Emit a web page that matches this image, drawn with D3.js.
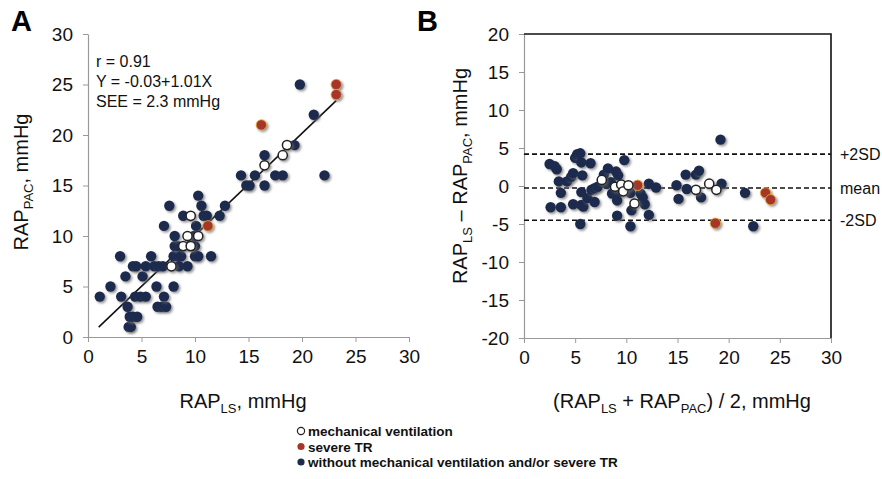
<html>
<head>
<meta charset="utf-8">
<script src="https://d3js.org/d3.v7.min.js"></script>
<style>
body { margin: 0; background: #fff; }
svg { font-family: 'Liberation Sans', Arial, sans-serif; }
</style>
</head>
<body>
<svg width="882" height="479"></svg>
<script>
// panel A: RAP_LS (x) vs RAP_PAC (y), mmHg
var aDark = [
[1.1,4],[2.1,5],[3.0,8],[3.1,4],[3.5,6],[3.7,3],[3.8,1],[4.0,1],[3.9,2],[4.2,2],[4.6,2],[4.2,7],[4.5,7],
[4.4,4],[4.9,4],[5.4,4],[5.1,6],[5.4,7],[5.9,8],[6.4,5],[6.2,7],[6.6,7],[7.0,7],[6.5,3],[6.9,3],[7.3,3],
[7.1,4],[7.1,11],[7.6,13],[8.0,5],[8.0,8],[8.4,8],[8.1,9],[8.4,9],[8.1,10],[8.7,8],[8.5,7],[9.3,7],[8.9,12],
[9.9,10],[10.0,9],[10.0,8],[10.3,8],[10.1,11],[10.3,14],[10.6,13],[10.8,12],[11.1,12],[11.5,8],[12.3,12],
[12.8,13],[14.3,16],[14.8,15],[15.1,15],[15.6,16],[16.5,15],[16.5,18],[17.5,16],[18.2,16],[19.3,19],
[19.8,25],[21.1,22],[22.1,16]
];
var aOpen = [[7.8,7],[8.9,9],[9.3,10],[9.6,12],[9.6,9],[10.3,10],[16.5,17],[18.2,18],[18.6,19]];
var aRed = [[11.2,11],[16.2,21],[23.2,25],[23.2,24]];
var fitLine = {intercept: -0.03, slope: 1.01, from: 1, to: 23.2};
var statsText = ["r = 0.91", "Y = -0.03+1.01X", "SEE = 2.3 mmHg"];

// panel B: mean (x) vs difference (y)
var bDark = [
[2.5,2.9],[3.0,2.6],[3.2,2.2],[3.4,0.6],[3.6,-0.9],[2.6,-2.8],[3.6,-2.8],
[4.2,0.6],[4.6,1.2],[4.8,1.7],[5.0,3.7],[5.2,4.2],[5.5,4.3],[5.6,3.1],[5.7,1.4],[5.6,-0.8],[4.8,-2.4],
[5.6,-2.5],[5.8,-2.7],[5.5,-5.0],[6.5,3.0],[6.2,-1.6],[6.6,-0.5],[6.9,-0.3],[6.9,-2.1],[7.2,-0.1],
[7.8,1.5],[8.2,2.3],[8.1,0.3],[8.5,0.5],[8.6,-1.0],[9.0,1.9],[9.2,1.4],[9.1,-1.0],[9.1,-1.9],[9.1,-3.9],
[9.8,3.4],[10.4,-0.9],[10.5,-3.2],[10.4,-5.3],[11.4,-1.0],[11.6,-1.5],[11.8,-2.4],[12.2,-3.8],[12.2,0.3],
[12.9,-0.2],[14.9,0.1],[15.1,-1.7],[15.8,1.5],[15.9,-0.4],[16.8,1.5],[17.1,2.0],[17.3,-1.5],[19.2,6.1],
[19.3,0.3],[21.6,-0.9],[22.4,-5.3]
];
var bOpen = [[7.6,0.8],[8.9,-0.1],[9.5,0.2],[9.7,-0.7],[10.2,0.1],[10.8,-2.3],[16.8,-0.5],[18.1,0.3],[18.8,-0.5]];
var bRed = [[11.1,0.1],[18.7,-4.9],[23.6,-0.9],[24.1,-1.8]];
var limits = [{v: 4.2, label: "+2SD"}, {v: -0.26, label: "mean"}, {v: -4.5, label: "-2SD"}];

var xTicks = [0,5,10,15,20,25,30];
var aYTicks = [0,5,10,15,20,25,30];
var bYTicks = [-20,-15,-10,-5,0,5,10,15,20];
var legendItems = ["mechanical ventilation", "severe TR", "without mechanical ventilation and/or severe TR"];

var navy = "#1c2a4e", red = "#a7352a";

var svg = d3.select("svg");

// shadow under dots
var defs = svg.append("defs");
defs.append("filter").attr("id", "sh").attr("x", "-50%").attr("y", "-50%").attr("width", "200%").attr("height", "200%")
  .append("feDropShadow").attr("dx", 1.6).attr("dy", 1.6).attr("stdDeviation", 1.1)
  .attr("flood-color", "#666").attr("flood-opacity", 0.7);

var xA = d3.scaleLinear().domain([0, 30]).range([88, 409]);
var yA = d3.scaleLinear().domain([0, 30]).range([337, 34]);
var xB = d3.scaleLinear().domain([0, 30]).range([524, 831]);
var yB = d3.scaleLinear().domain([-20, 20]).range([338, 34]);

// plain hyphen for negatives, like the original
var fmt = function(d) { return String(d); };

function styleAxis(g) {
  g.select(".domain").attr("stroke", "#999").attr("stroke-width", 1.2);
  g.selectAll(".tick line").attr("stroke", "#999");
  g.selectAll("text").attr("font-size", 19).attr("fill", "#111")
   .attr("font-family", "'Liberation Sans', Arial, sans-serif");
}

// ---- panel A axes
svg.append("g").attr("transform", "translate(0,337)")
  .call(d3.axisBottom(xA).tickValues(xTicks).tickFormat(fmt).tickSize(5).tickPadding(8).tickSizeOuter(0))
  .call(styleAxis);
svg.append("g").attr("transform", "translate(88,0)")
  .call(d3.axisLeft(yA).tickValues(aYTicks).tickFormat(fmt).tickSize(5).tickPadding(10).tickSizeOuter(0))
  .call(styleAxis);

// ---- panel B axes + frame
svg.append("g").attr("transform", "translate(0,338)")
  .call(d3.axisBottom(xB).tickValues(xTicks).tickFormat(fmt).tickSize(5).tickPadding(8).tickSizeOuter(0))
  .call(styleAxis);
svg.append("g").attr("transform", "translate(524,0)")
  .call(d3.axisLeft(yB).tickValues(bYTicks).tickFormat(fmt).tickSize(5).tickPadding(10).tickSizeOuter(0))
  .call(styleAxis);
svg.append("path")
  .attr("d", "M" + xB(0) + "," + yB(20) + "H" + xB(30) + "V" + yB(-20))
  .attr("fill", "none").attr("stroke", "#111").attr("stroke-width", 1.6);

// limits of agreement
limits.forEach(function(l) {
  svg.append("line")
    .attr("x1", xB(0)).attr("x2", xB(30))
    .attr("y1", yB(l.v)).attr("y2", yB(l.v))
    .attr("stroke", "#111").attr("stroke-width", 1.6).attr("stroke-dasharray", "5,3");
  svg.append("text").attr("x", xB(30) + 9).attr("y", yB(l.v) + 6)
    .attr("font-size", 16).attr("fill", "#111").text(l.label);
});

// regression line in A
svg.append("line")
  .attr("x1", xA(fitLine.from)).attr("y1", yA(fitLine.intercept + fitLine.slope * fitLine.from))
  .attr("x2", xA(fitLine.to)).attr("y2", yA(fitLine.intercept + fitLine.slope * fitLine.to))
  .attr("stroke", "#111").attr("stroke-width", 1.6);

function dots(data, xs, ys, kind) {
  data.forEach(function(d) {
    var c = svg.append("circle").attr("cx", xs(d[0])).attr("cy", ys(d[1])).attr("r", 5.2)
      .attr("filter", "url(#sh)");
    if (kind == "open") c.attr("fill", "#fff").attr("stroke", "#222").attr("stroke-width", 1.5).attr("r", 4.6);
    else if (kind == "red") c.attr("fill", red).attr("stroke", "#e2b23a").attr("stroke-width", 0.8);
    else c.attr("fill", navy);
  });
}
dots(aDark, xA, yA, "dark");
dots(aRed, xA, yA, "red");
dots(aOpen, xA, yA, "open");
dots(bDark, xB, yB, "dark");
dots(bRed, xB, yB, "red");
dots(bOpen, xB, yB, "open");

// stats text
statsText.forEach(function(t, i) {
  svg.append("text").attr("x", 96).attr("y", 67 + i * 20).attr("font-size", 16).attr("fill", "#111").text(t);
});

// panel letters
svg.append("text").attr("x", 11).attr("y", 31).attr("font-size", 29).attr("font-weight", "bold").text("A");
svg.append("text").attr("x", 417).attr("y", 31).attr("font-size", 29).attr("font-weight", "bold").text("B");

// axis titles
var tA = svg.append("text").attr("x", 243).attr("y", 408).attr("text-anchor", "middle").attr("font-size", 20).attr("fill", "#111");
tA.append("tspan").text("RAP");
tA.append("tspan").attr("font-size", 13).attr("dy", 5).text("LS");
tA.append("tspan").attr("dy", -5).text(", mmHg");

var tAy = svg.append("text").attr("transform", "translate(28,182) rotate(-90)").attr("text-anchor", "middle").attr("font-size", 20).attr("fill", "#111");
tAy.append("tspan").text("RAP");
tAy.append("tspan").attr("font-size", 13).attr("dy", 5).text("PAC");
tAy.append("tspan").attr("dy", -5).text(", mmHg");

var tB = svg.append("text").attr("x", 682).attr("y", 408).attr("text-anchor", "middle").attr("font-size", 20).attr("fill", "#111");
tB.append("tspan").text("(RAP");
tB.append("tspan").attr("font-size", 13).attr("dy", 5).text("LS");
tB.append("tspan").attr("dy", -5).text(" + RAP");
tB.append("tspan").attr("font-size", 13).attr("dy", 5).text("PAC");
tB.append("tspan").attr("dy", -5).text(") / 2, mmHg");

var tBy = svg.append("text").attr("transform", "translate(467,176) rotate(-90)").attr("text-anchor", "middle").attr("font-size", 20).attr("fill", "#111");
tBy.append("tspan").text("RAP");
tBy.append("tspan").attr("font-size", 13).attr("dy", 5).text("LS");
tBy.append("tspan").attr("dy", -5).text(" \u2013 RAP");
tBy.append("tspan").attr("font-size", 13).attr("dy", 5).text("PAC");
tBy.append("tspan").attr("dy", -5).text(", mmHg");

// legend
legendItems.forEach(function(t, i) {
  var y = 431 + i * 15.5;
  var m = svg.append("circle").attr("cx", 301).attr("cy", y).attr("r", 3.6);
  if (i == 0) m.attr("fill", "#fff").attr("stroke", "#222").attr("stroke-width", 1.2);
  else if (i == 1) m.attr("fill", red);
  else m.attr("fill", navy);
  svg.append("text").attr("x", 308).attr("y", y + 5).attr("font-size", 13.5).attr("font-weight", "bold")
    .attr("fill", "#111").text(t);
});
</script>
</body>
</html>
